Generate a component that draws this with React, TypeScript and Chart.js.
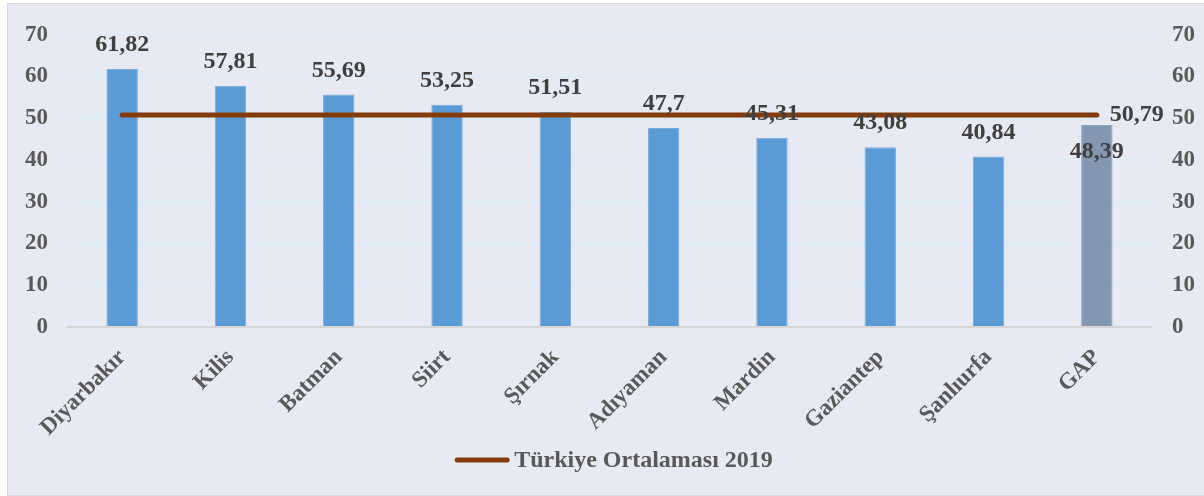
import React, { useEffect, useRef } from 'react';
import { Chart, registerables } from 'chart.js';

Chart.register(...registerables);

const categories = ['Diyarbakır', 'Kilis', 'Batman', 'Siirt', 'Şırnak', 'Adıyaman', 'Mardin', 'Gaziantep', 'Şanlıurfa', 'GAP'];
const values = [61.82, 57.81, 55.69, 53.25, 51.51, 47.7, 45.31, 43.08, 40.84, 48.39];
const valueLabels = ['61,82', '57,81', '55,69', '53,25', '51,51', '47,7', '45,31', '43,08', '40,84', '48,39'];
const turkiyeAvg = [50.79, 50.79, 50.79, 50.79, 50.79, 50.79, 50.79, 50.79, 50.79, 50.79];
const avgLabel = '50,79';
const avgSeriesName = 'Türkiye Ortalaması 2019';
const barColors = ['#5B9BD5', '#5B9BD5', '#5B9BD5', '#5B9BD5', '#5B9BD5', '#5B9BD5', '#5B9BD5', '#5B9BD5', '#5B9BD5', '#8497B0'];
const yTickValues = [0, 10, 20, 30, 40, 50, 60, 70];

const FONT = '"Liberation Serif", "Times New Roman", serif';

const labelsPlugin = {
  id: 'customLabels',
  afterDatasetsDraw(chart: any) {
    const ctx = chart.ctx;
    ctx.save();
    ctx.fillStyle = '#404040';
    ctx.font = `bold 24px ${FONT}`;
    ctx.textAlign = 'center';
    ctx.textBaseline = 'middle';
    const barMeta = chart.getDatasetMeta(1);
    barMeta.data.forEach((el: any, i: number) => {
      const inside = i === values.length - 1;
      const y = inside ? el.y + 27 : el.y - 24;
      ctx.fillText(valueLabels[i], el.x, y);
    });
    const lineMeta = chart.getDatasetMeta(0);
    const last = lineMeta.data[lineMeta.data.length - 1];
    ctx.textAlign = 'left';
    ctx.fillText(avgLabel, last.x + 13, last.y);
    ctx.restore();
  },
  afterDraw(chart: any) {
    const ctx = chart.ctx;
    const area = chart.chartArea;
    ctx.save();
    ctx.font = `bold 24px ${FONT}`;
    const tw = ctx.measureText(avgSeriesName).width;
    const lineLen = 56;
    const gap = 4;
    const total = lineLen + gap + tw;
    const cx = (area.left + area.right) / 2 + 4;
    const x0 = cx - total / 2;
    const y = 460;
    ctx.strokeStyle = '#843C0C';
    ctx.lineWidth = 5;
    ctx.lineCap = 'round';
    ctx.beginPath();
    ctx.moveTo(x0 + 3, y);
    ctx.lineTo(x0 + lineLen - 3, y);
    ctx.stroke();
    ctx.fillStyle = '#595959';
    ctx.textAlign = 'left';
    ctx.textBaseline = 'middle';
    ctx.fillText(avgSeriesName, x0 + lineLen + gap, y + 1);
    ctx.restore();
  },
};

export default function App() {
  const ref = useRef<HTMLCanvasElement | null>(null);

  useEffect(() => {
    if (!ref.current) return;
    const tickFont = { family: FONT, size: 23, weight: 'bold' as const };
    const chart = new Chart(ref.current, {
      type: 'bar',
      data: {
        labels: categories,
        datasets: [
          {
            type: 'line' as const,
            label: avgSeriesName,
            data: turkiyeAvg,
            borderColor: '#843C0C',
            backgroundColor: '#843C0C',
            borderWidth: 5,
            borderCapStyle: 'round',
            pointRadius: 0,
            order: 0,
            yAxisID: 'y',
          },
          {
            type: 'bar' as const,
            label: 'Değer',
            data: values,
            backgroundColor: barColors,
            borderColor: barColors.map((c) => (c === '#8497B0' ? '#93A5BD' : '#79ACDC')),
            borderWidth: 1,
            barPercentage: 0.29,
            categoryPercentage: 1,
            order: 1,
            yAxisID: 'y',
          },
        ],
      } as any,
      options: {
        responsive: false,
        animation: false,
        devicePixelRatio: 1,
        layout: { padding: { left: 0, right: 0, top: 32, bottom: 0 } },
        plugins: {
          legend: { display: false },
          tooltip: { enabled: false },
        },
        scales: {
          x: {
            grid: { display: false, drawTicks: false },
            border: { color: '#D6D6D6', width: 2 },
            ticks: {
              font: tickFont,
              color: '#595959',
              minRotation: 45,
              maxRotation: 45,
              padding: 17,
            },
            afterFit: (s: any) => {
              s.height = 169;
            },
          },
          y: {
            position: 'left',
            min: 0,
            max: 70,
            afterBuildTicks: (s: any) => {
              s.ticks = yTickValues.map((v) => ({ value: v }));
            },
            grid: {
              color: (c: any) => (c.tick && c.tick.value === 0 ? 'rgba(0,0,0,0)' : '#DDEAF7'),
              lineWidth: 2,
              drawTicks: false,
            },
            border: { display: false },
            ticks: { font: tickFont, color: '#595959', padding: 20 },
            afterFit: (s: any) => {
              s.width = 68;
            },
          },
          y2: {
            position: 'right',
            min: 0,
            max: 70,
            afterBuildTicks: (s: any) => {
              s.ticks = yTickValues.map((v) => ({ value: v }));
            },
            grid: { display: false, drawTicks: false },
            border: { display: false },
            ticks: { font: tickFont, color: '#595959', padding: 21 },
            afterFit: (s: any) => {
              s.width = 53;
            },
          },
        },
      } as any,
      plugins: [labelsPlugin],
    });
    return () => chart.destroy();
  }, []);

  return (
    <>
      <div
        style={{
          position: 'absolute',
          left: 7,
          top: 3,
          width: 1197,
          height: 493,
          boxSizing: 'border-box',
          borderLeft: '1px solid #D9D9D9',
          borderTop: '1px solid #D9D9D9',
          borderBottom: '1px solid #D9D9D9',
          background: '#E7E9F3',
        }}
      />
      <canvas
        ref={ref}
        width={1204}
        height={496}
        style={{ position: 'absolute', left: 0, top: 0, width: 1204, height: 496 }}
      />
    </>
  );
}
